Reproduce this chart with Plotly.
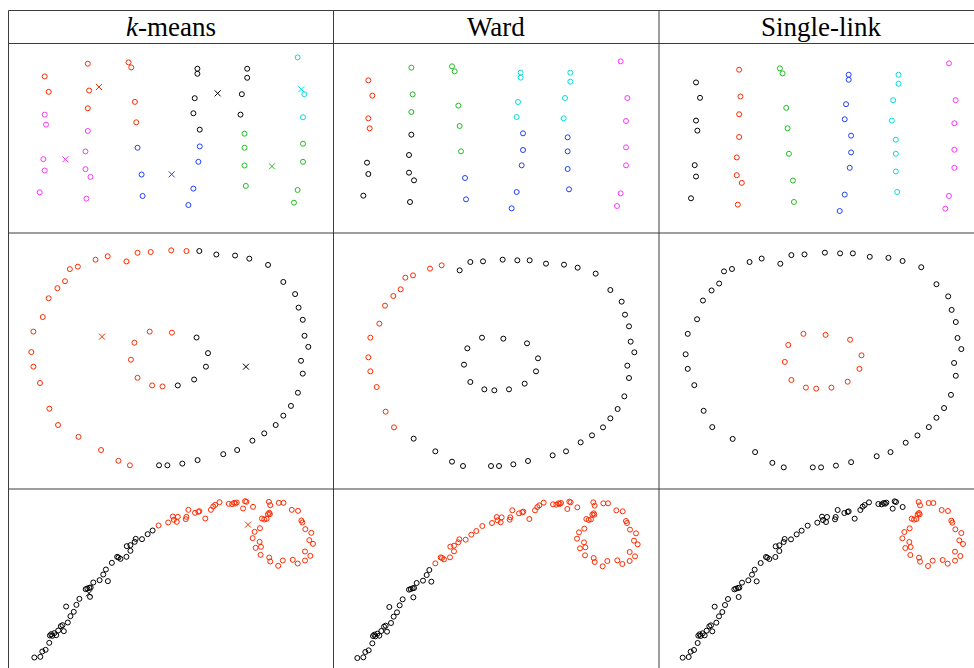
import plotly.graph_objects as go

# ---------------- data ----------------
method_titles = ["<i>k</i>-means", "Ward", "Single-link"]

# Row 1: six vertical groups of points (x, y measured downward)
row1_x = [103, 115, 103, 107, 99, 103, 88,
          232, 236, 232, 232, 225, 225, 240, 228,
          354, 362, 373, 377, 381, 393, 396,
          560, 560, 552, 548, 567, 567, 563, 548, 533,
          709, 709, 693, 689, 701, 701, 701, 705,
          860, 880, 876, 876, 876, 860, 849]
row1_y = [109, 155, 223, 253, 356, 390, 455,
          71, 151, 204, 272, 333, 386, 409, 474,
          67, 82, 185, 246, 322, 402, 466,
          86, 101, 174, 219, 268, 318, 364, 444, 493,
          86, 113, 162, 223, 280, 322, 375, 436,
          52, 162, 231, 310, 364, 448, 486]
row1_kmeans = list("rrmmmmm" "rrrmmmmm" "rrrrbbb" "kkkkkbbbb" "kkkkgggg" "cccgggg")
row1_ward = list("rrrrkkk" "gggkkkkk" "gggggbb" "ccccbbbbb" "ccccbbbb" "mmmmmmm")
row1_single = list("kkkkkkk" "rrrrrrrr" "ggggggg" "bbbbbbbbb" "cccccccc" "mmmmmmm")
row1_centers_x = [265.5, 164.8, 483.0, 620.6, 783.2, 871.0]
row1_centers_y = [140.6, 356.6, 401.4, 159.5, 377.5, 147.5]
row1_centers_lab = list("rmbkgc")

# Row 2: two concentric rings (outer 48 points, inner 12 points)
row2_x = [103, 109, 136, 153, 178, 200, 214, 237, 288, 323,
          377, 409, 447, 506, 550, 587,
          636, 690, 731, 785, 829, 863, 873, 885, 890, 901,
          880, 885, 871, 851, 829, 807, 774, 740, 696, 656,
          582, 538, 495, 471, 387, 354, 304, 239, 180, 155, 128, 109,
          444, 508, 579, 612, 606, 572, 525, 481, 451, 409, 390, 400]
row2_y = [373, 314, 272, 218, 189, 169, 134, 127, 107, 97,
          112, 87, 85, 80, 82, 82,
          92, 95, 104, 122, 171, 206, 245, 280, 326, 358,
          398, 435, 490, 528, 556, 583, 607, 628, 655, 667,
          684, 694, 699, 699, 699, 686, 655, 617, 583, 536, 462, 415,
          314, 317, 331, 376, 415, 452, 469, 472, 469, 447, 395, 346]
row2_kmeans_runs = [("r", 15), ("k", 25), ("r", 8), ("r", 2), ("k", 5), ("r", 5)]
row2_ward_runs = [("r", 10), ("k", 34), ("r", 4), ("k", 12)]
row2_single_runs = [("k", 48), ("r", 12)]
row2_centers_x = [306.6, 721.4]
row2_centers_y = [328.6, 415.0]
row2_centers_lab = list("rk")

# Row 3: rising curve ending in a loop
row3_x = [70, 88, 94, 104, 115, 117, 121, 124, 130, 136, 142, 150, 155, 159, 166,
          171, 179, 189, 197, 206, 225, 230, 236, 240, 238, 248, 267, 278, 286, 292,
          304, 320, 324, 330, 348, 349, 360, 360, 373, 376, 395, 412, 427,
          445, 474, 488, 491, 500, 503, 527, 529, 535, 555, 565, 568, 586, 603, 610,
          616, 629, 657, 667, 673, 677, 681, 700, 706, 710, 730,
          778, 782, 808, 822, 847, 866, 876, 879, 888, 906, 900, 911, 887, 903, 887,
          865, 850, 820, 806, 782, 779, 753, 754, 750, 738, 729, 735, 751, 757, 764,
          771, 775, 779, 781]
row3_y = [507, 505, 489, 484, 463, 441, 437, 442, 434, 440, 426, 413, 410, 428, 354,
          402, 383, 370, 349, 331, 302, 300, 298, 297, 325, 282, 275, 258, 243, 278,
          223, 205, 207, 211, 205, 173, 170, 187, 160, 151, 152, 137, 126,
          111, 102, 84, 94, 100, 85, 92, 85, 64, 73, 70, 68, 90, 64, 54,
          49, 41, 46, 47, 43, 45, 42, 60, 38, 40, 55,
          40, 50, 43, 43, 64, 67, 96, 102, 122, 133, 155, 166, 189, 202, 216,
          225, 214, 216, 232, 219, 207, 199, 175, 160, 178, 149, 130, 119, 90, 93,
          91, 77, 73, 77]
row3_kmeans_runs = [("k", 43), ("r", 60)]
row3_ward_runs = [("k", 30), ("r", 73)]
row3_single_runs = [("k", 69), ("r", 34)]
row3_centers_x = [235.0, 714.9]
row3_centers_y = [314.5, 108.5]
row3_centers_lab = list("kr")

COLORS = {"r": "#ff2a00", "g": "#22bb22", "b": "#1f3fff",
          "c": "#00dddd", "m": "#ff33ff", "k": "#000000"}


def expand(runs):
    out = []
    for lab, n in runs:
        out += [lab] * n
    return out


rows = [
    dict(x=row1_x, y=row1_y,
         labels=[row1_kmeans, row1_ward, row1_single],
         centers=(row1_centers_x, row1_centers_y, row1_centers_lab)),
    dict(x=row2_x, y=row2_y,
         labels=[expand(row2_kmeans_runs), expand(row2_ward_runs), expand(row2_single_runs)],
         centers=(row2_centers_x, row2_centers_y, row2_centers_lab)),
    dict(x=row3_x, y=row3_y,
         labels=[expand(row3_kmeans_runs), expand(row3_ward_runs), expand(row3_single_runs)],
         centers=(row3_centers_x, row3_centers_y, row3_centers_lab)),
]

# ---------------- layout geometry (pixels) ----------------
W, H = 974, 668
col_px = [(8, 334), (334, 660), (659, 974)]
row_px = [(44, 234), (233, 489), (489, 668)]
# per-panel axis ranges [row][col] -> (xrange, yrange reversed)
ranges = [
    [([-6.8, 968.8], [579.6, 12.1]), ([0, 978], [570, 0]), ([-7.8, 934.9], [561.7, -5.8])],
    [([35.8, 975.0], [767.2, 30.1]), ([0, 978], [768, 0]), ([25.8, 937.7], [761.4, 23.3])],
    [([-9.5, 974.5], [538.5, 1.5]), ([0, 978], [537, 0]), ([-1, 944], [538, 1])],
]

fig = go.Figure()
layout = {}
idx = 0
for r, row in enumerate(rows):
    for c in range(3):
        idx += 1
        xa = "x" if idx == 1 else f"x{idx}"
        ya = "y" if idx == 1 else f"y{idx}"
        cols = [COLORS[l] for l in row["labels"][c]]
        fig.add_trace(go.Scatter(
            x=row["x"], y=row["y"], mode="markers", xaxis=xa, yaxis=ya,
            marker=dict(symbol="circle-open", size=5, color=cols,
                        line=dict(width=1, color=cols)),
            showlegend=False, hoverinfo="skip"))
        if c == 0:
            cx, cy, cl = row["centers"]
            ccol = [COLORS[l] for l in cl]
            fig.add_trace(go.Scatter(
                x=cx, y=cy, mode="markers", xaxis=xa, yaxis=ya,
                marker=dict(symbol="x-thin-open", size=6, color=ccol,
                            line=dict(width=1, color=ccol)),
                showlegend=False, hoverinfo="skip"))
        x0, x1 = col_px[c]
        y0, y1 = row_px[r]
        xr, yr = ranges[r][c]
        kx = "xaxis" if idx == 1 else f"xaxis{idx}"
        ky = "yaxis" if idx == 1 else f"yaxis{idx}"
        layout[kx] = dict(domain=[x0 / W, x1 / W], range=xr, visible=False,
                          anchor=ya, fixedrange=True)
        layout[ky] = dict(domain=[1 - y1 / H, 1 - y0 / H], range=yr, visible=False,
                          anchor=xa, fixedrange=True)

# table lines
line_col = "#3c3c3c"
shapes = []
for yy in [10.5, 43.5, 233, 489]:
    shapes.append(dict(type="line", xref="paper", yref="paper",
                       x0=8.5 / W, x1=1.02, y0=1 - yy / H, y1=1 - yy / H,
                       line=dict(color=line_col, width=1)))
for xx in [8.5, 333.5, 659]:
    shapes.append(dict(type="line", xref="paper", yref="paper",
                       x0=xx / W, x1=xx / W, y0=1 - 10.5 / H, y1=-0.02,
                       line=dict(color=line_col, width=1)))

annotations = []
for c, t in enumerate(method_titles):
    cx = [171, 496, 821][c]
    annotations.append(dict(text=t, xref="paper", yref="paper", x=cx / W, y=1 - 27 / H,
                            xanchor="center", yanchor="middle", showarrow=False,
                            font=dict(family="Liberation Serif", size=27, color="black")))

fig.update_layout(width=W, height=H, margin=dict(l=0, r=0, t=0, b=0),
                  paper_bgcolor="white", plot_bgcolor="white",
                  shapes=shapes, annotations=annotations, **layout)

fig.write_html("out.html", config={"displayModeBar": False},
               post_script="document.body.style.margin='0';document.body.style.overflow='hidden';")
